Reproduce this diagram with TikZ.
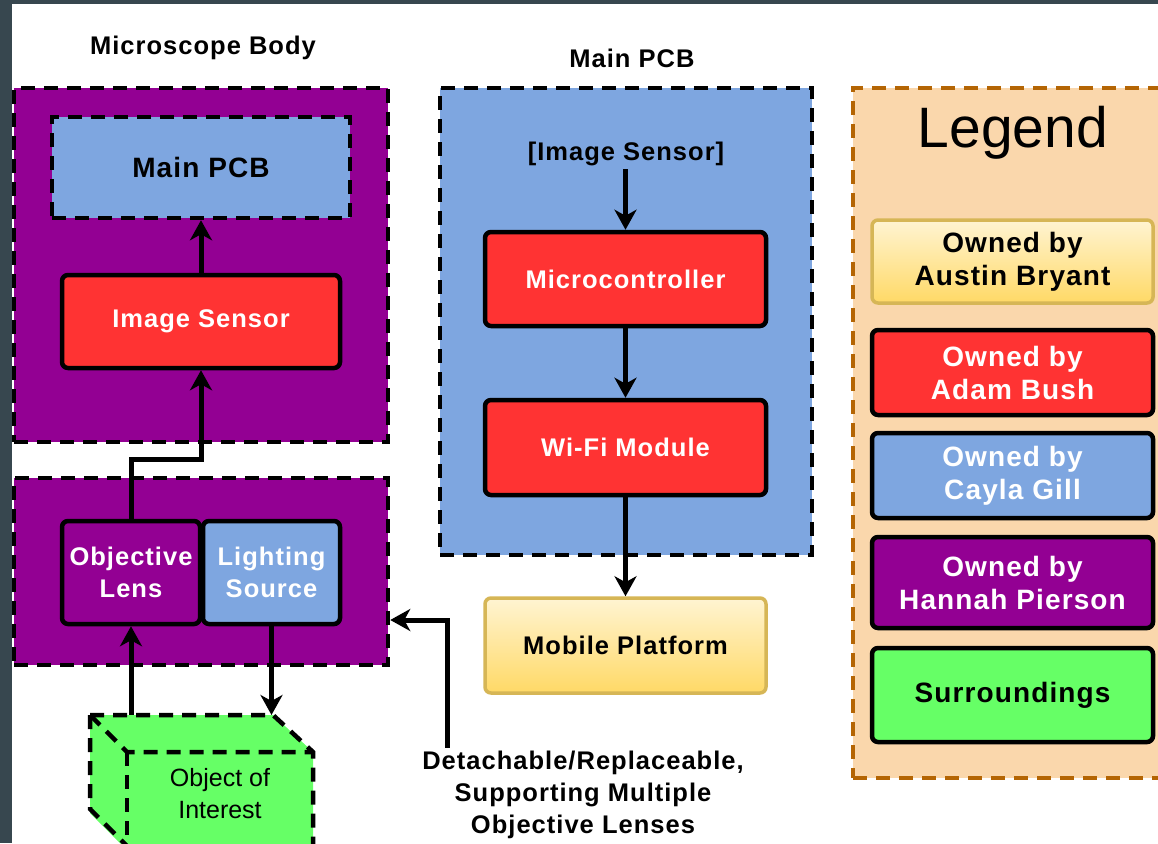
\documentclass[tikz,border=0pt]{standalone}
\usepackage{fontspec}
\setmainfont{Liberation Sans}
\newfontfamily\lsp{Liberation Sans}[LetterSpace=4.0]
\usetikzlibrary{arrows.meta,calc}
\definecolor{frame}{HTML}{37474F}
\definecolor{pur}{HTML}{930093}
\definecolor{blu}{HTML}{7EA6E0}
\definecolor{rd}{HTML}{FF3333}
\definecolor{grn}{HTML}{66FF66}
\definecolor{yelA}{HTML}{FFF4D2}
\definecolor{yelB}{HTML}{FFD966}
\definecolor{ybord}{HTML}{D6B656}
\definecolor{legfill}{HTML}{FAD7AC}
\definecolor{legbord}{HTML}{B46504}
\begin{document}
\begin{tikzpicture}[x=1pt,y=-1pt,
  dsh/.style={line width=4.5pt, dash pattern=on 14pt off 9pt},
  dbox/.style={draw=black, dsh, inner sep=0pt},
  rbox/.style={draw=black, line width=4.5pt, rounded corners=6pt, inner sep=0pt, align=center},
  btxt/.style={font=\lsp\bfseries\fontsize{25.5}{32}\selectfont, align=center},
  ltxt/.style={font=\lsp\bfseries\fontsize{28}{33}\selectfont, align=center},
  arr/.style={line width=5pt, -{Stealth[length=20pt,width=22pt,inset=6pt]}},
  yel/.style={rbox, draw=ybord, line width=3.5pt, top color=yelA, bottom color=yelB}
]
\useasboundingbox (0,0) rectangle (1158,843);
\clip (0,0) rectangle (1158,843);
\fill[white] (0,0) rectangle (1158,843);
\fill[frame] (0,0) rectangle (12,843);
\fill[frame] (0,0) rectangle (1158,4);

% ---------- Microscope body ----------
\node[btxt] (ttlbody) at (203,48) {Microscope Body};
\node[dbox, fill=pur, minimum width=374pt, minimum height=354pt] (body1) at (201,265) {};
\node[dbox, fill=blu, minimum width=298pt, minimum height=101pt,
      font=\lsp\bfseries\fontsize{28}{32}\selectfont] (pcbin) at (201,167.5) {Main PCB};
\node[rbox, fill=rd, minimum width=278pt, minimum height=93pt, btxt, text=white] (imgs) at (201,321.5) {Image Sensor};

\node[dbox, fill=pur, minimum width=374pt, minimum height=187pt] (body2) at (201,571.5) {};
\node[rbox, fill=pur, minimum width=138pt, minimum height=103pt, btxt, text=white] (lens) at (131,572.5) {Objective\\Lens};
\node[rbox, fill=blu, minimum width=137pt, minimum height=103pt, btxt, text=white] (light) at (271.5,572.5) {Lighting\\Source};

% ---------- Object of interest (cube) ----------
\fill[grn] (90,715) -- (273,715) -- (313,752) -- (313,850) -- (127,850) -- (90,813) -- cycle;
\draw[dsh] (90,715) -- (273,715) -- (313,752) -- (313,850);
\draw[dsh] (90,715) -- (90,809) -- (127,846);
\draw[dsh] (90,715) -- (127,752) -- (313,752);
\draw[dsh] (127,752) -- (127,850);
\node[minimum width=223pt, minimum height=131pt, anchor=north west, inner sep=0pt] (cube) at (90,715) {};
\node[font=\fontsize{25}{32}\selectfont, align=center] (obj) at (220,794) {Object of\\Interest};

% ---------- Main PCB ----------
\node[btxt] (ttlpcb) at (632,58) {Main PCB};
\node[dbox, fill=blu, minimum width=372pt, minimum height=467pt] (pcb) at (626,321.5) {};
\node[btxt] (isref) at (626,154) {[Image Sensor]};
\node[rbox, fill=rd, minimum width=281pt, minimum height=94pt, btxt, text=white] (mc) at (625.5,279) {Microcontroller};
\node[rbox, fill=rd, minimum width=281pt, minimum height=95pt, btxt, text=white] (wifi) at (625.5,447.5) {Wi-Fi Module};
\node[yel, minimum width=281pt, minimum height=95pt, btxt] (mob) at (625.5,645.5) {Mobile Platform};

\node[btxt] (det) at (583,795) {Detachable/Replaceable,\\Supporting Multiple\\Objective Lenses};

% ---------- Legend ----------
\node[draw=legbord, fill=legfill, dsh, inner sep=0pt, minimum width=327pt, minimum height=690pt] (leg) at (1016.5,433) {};
\node[font=\fontsize{57}{60}\selectfont] (legt) at (1013,133) {Legend};
\node[yel, minimum width=281pt, minimum height=83pt, ltxt] (lA) at (1012.5,261.5) {Owned by\\Austin Bryant};
\node[rbox, fill=rd, minimum width=281pt, minimum height=85pt, ltxt, text=white] (lB) at (1012.5,372.5) {Owned by\\Adam Bush};
\node[rbox, fill=blu, minimum width=281pt, minimum height=85pt, ltxt, text=white] (lC) at (1012.5,475.5) {Owned by\\Cayla Gill};
\node[rbox, fill=pur, minimum width=281pt, minimum height=91pt, ltxt, text=white] (lD) at (1012.5,582.5) {Owned by\\Hannah Pierson};
\node[rbox, fill=grn, minimum width=281pt, minimum height=94pt, ltxt] (lE) at (1012.5,695) {Surroundings};

% ---------- Connectors ----------
\draw[arr] (imgs.north) -- (pcbin.south);
\coordinate (bendy) at (0,459);
\draw[arr] (lens.north) -- (lens.north |- bendy) -| (imgs.south);
\draw[arr] (lens.south |- cube.north) -- (lens.south);
\draw[arr] (light.south) -- (light.south |- cube.north);
\draw[arr] (isref.south -| mc.north) -- (mc.north);
\draw[arr] (mc.south) -- (wifi.north);
\draw[arr] (wifi.south) -- (mob.north);
\coordinate (detA) at (447,620);
\draw[arr] (det.north -| detA) -- (detA) -- (detA -| body2.east);
\end{tikzpicture}
\end{document}
